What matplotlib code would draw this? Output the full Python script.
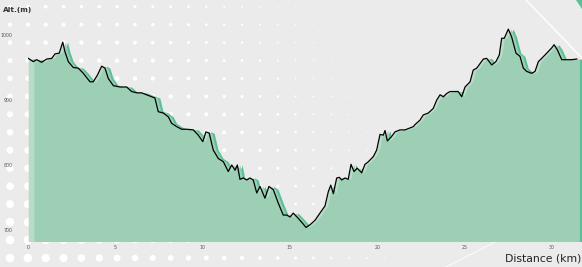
import numpy as np
import matplotlib
matplotlib.use("Agg")
import matplotlib.pyplot as plt

# elevation profile
dist_km = [0.02, 0.30, 0.50, 0.78, 1.07, 1.36, 1.55, 1.79, 1.99, 2.12, 2.31, 2.59, 2.88,
           3.17, 3.55, 3.74, 3.97, 4.22, 4.41, 4.60, 4.89, 5.27, 5.65, 5.94, 6.23, 6.51,
           6.80, 7.08, 7.27, 7.46, 7.75, 8.04, 8.23, 8.52, 8.80, 9.09, 9.47, 9.75, 10.01,
           10.19, 10.38, 10.61, 10.90, 11.19, 11.47, 11.67, 11.86, 11.99, 12.14, 12.33,
           12.53, 12.71, 12.90, 13.10, 13.29, 13.57, 13.80, 14.05, 14.34, 14.62, 14.82,
           15.01, 15.19, 15.48, 15.77, 15.92, 16.15, 16.44, 16.72, 17.01, 17.20, 17.34,
           17.49, 17.68, 17.83, 17.97, 18.16, 18.34, 18.50, 18.67, 18.86, 19.11, 19.30,
           19.49, 19.78, 19.97, 20.16, 20.35, 20.45, 20.58, 20.83, 21.02, 21.31, 21.59,
           21.78, 22.07, 22.16, 22.45, 22.64, 22.93, 23.21, 23.41, 23.60, 23.79, 23.98,
           24.17, 24.36, 24.64, 24.84, 25.03, 25.32, 25.50, 25.70, 25.89, 26.08, 26.27,
           26.56, 26.80, 26.99, 27.13, 27.28, 27.51, 27.70, 27.95, 28.18, 28.37, 28.56,
           28.85, 29.04, 29.23, 29.42, 29.71, 29.99, 30.13, 30.32, 30.57, 30.85, 31.14,
           31.43]
alt_m = [964, 959, 962, 958, 963, 964, 971, 972, 989, 974, 959, 950, 949,
         941, 928, 928, 938, 952, 949, 933, 922, 920, 920, 913, 911, 911,
         908, 905, 903, 882, 880, 874, 864, 859, 855, 855, 854, 846, 836,
         851, 849, 823, 810, 805, 790, 800, 792, 800, 778, 780,
         777, 780, 777, 757, 767, 749, 767, 762, 741, 723, 723,
         720, 726, 718, 709, 704, 708, 715, 726, 737, 759, 769,
         756, 780, 781, 777, 780, 778, 801, 790, 795, 788, 801,
         805, 813, 823, 847, 846, 853, 837, 844, 851, 854, 854,
         856, 859, 862, 869, 877, 880, 887, 900, 908, 905, 910,
         913, 913, 913, 905, 920, 928, 946, 949, 956, 963, 964,
         954, 959, 969, 995, 995, 1009, 997, 972, 967, 949, 944,
         941, 944, 959, 964, 972, 980, 985, 977, 962, 962, 962,
         963]

x_ticks = [0, 5, 10, 15, 20, 25, 30]
y_ticks = [700, 800, 900, 1000]

W, H = 582, 267
fig = plt.figure(figsize=(W / 100, H / 100), dpi=100)
fig.patch.set_facecolor("#ebebeb")

# background: white dots fading away from the bottom-left corner
bg = fig.add_axes([0, 0, 1, 1], zorder=0)
bg.set_xlim(0, W)
bg.set_ylim(H, 0)
bg.axis("off")
gx, gy = np.meshgrid(10 + 17.85 * np.arange(33), 6.7 + 17.95 * np.arange(15))
d = np.hypot(gx - 10, 258 - gy)
r = np.clip(4.6 * (1 - d / 430), 0, 4.3)
keep = r > 0.15
bg.scatter(gx[keep], gy[keep], s=(2 * r[keep] * 0.72) ** 2, color="white", linewidths=0)
bg.plot([526, 582], [0, 58], color="white", lw=1)
bg.plot([446, 497], [267, 241], color="white", lw=0.8, alpha=0.8)
bg.fill([576, 582, 582], [0, 0, 9], color="#5dbf99", lw=0)

ax = fig.add_axes([28 / W, 26 / H, 554 / W, 241 / H], zorder=1)
ax.set_facecolor("none")
x = np.array(dist_km)
y = np.array(alt_m)
ax.fill_between(x + 0.28, y, 600, color="#5dbf99", lw=0)
ax.fill_between(x, y, 600, color="#b7ddc8", lw=0)
ax.fill_between(x + 0.15, y, 600, color="#9ccfb4", lw=0)
# lighter left edge of the profile
edge = np.linspace(x[0], 0.34, 5)
ax.fill_between(edge, np.interp(edge, x, y), 600, color="#b7ddc8", lw=0)
ax.plot(x, y, color="black", lw=0.9)

ax.set_xlim(0, 554 / 17.46)
ax.set_ylim(683.1, 1053.8)
for s in ax.spines.values():
    s.set_visible(False)
ax.set_xticks(x_ticks)
ax.set_yticks(y_ticks)
ax.tick_params(axis="both", length=0, labelsize=3.4, labelcolor="#555555")
ax.tick_params(axis="x", pad=3)
ax.tick_params(axis="y", pad=11)

fig.text(3 / W, 1 - 10 / H, "Alt.(m)", fontsize=5.3, fontweight="bold",
         color="#333333", ha="left", va="center")
fig.text(581.5 / W, 1 - 261.5 / H, "Distance (km)", fontsize=7.8,
         color="#222222", ha="right", va="baseline")

fig.savefig("out.png", dpi=100, facecolor=fig.get_facecolor())
